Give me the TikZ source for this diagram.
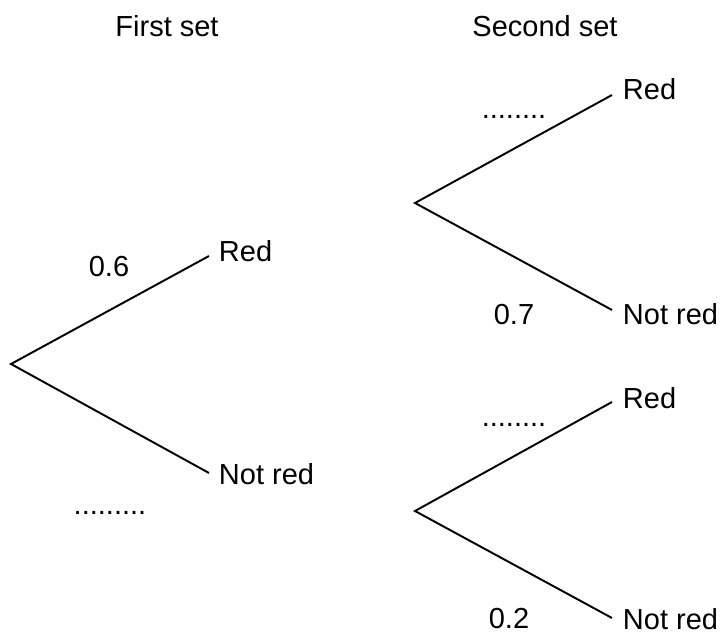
\documentclass[tikz,border=0pt]{standalone}
\usepackage{fontspec}
\setmainfont{Liberation Sans}
\begin{document}
\begin{tikzpicture}[line width=1.1pt, every node/.style={font=\fontsize{16.5}{20}\selectfont}, lbl/.style={right, inner sep=0pt}]
    \useasboundingbox (0,0) rectangle (14.4,12.7);
    \node (h1) at (3.34,12.18) {First set}; \node (h2) at (10.90,12.18) {Second set};
    
    \coordinate (v1) at (0.22,5.42); \coordinate (v2) at (4.18,7.58); \coordinate (v3) at (4.18,3.24);
    \draw (v2)--(v1)--(v3);
    \node[lbl] (r1) at (4.36,7.68) {Red}; \node[lbl] (n1) at (4.36,3.22) {Not red};
    \node (p1) at (2.18,7.36) {0.6}; \node[anchor=base] (d1) at (2.20,2.40) {.........};
    
    \begin{scope}[shift={(8.08,3.22)}]
        \coordinate (w1) at (0.22,5.42); \coordinate (w2) at (4.16,7.58); \coordinate (w3) at (4.16,3.28);
        \draw (w2)--(w1)--(w3);
        \node[lbl] (r2) at (4.36,7.70) {Red}; \node[lbl] (n2) at (4.36,3.20) {Not red};
        \node[anchor=base] (d2) at (2.20,7.10) {........}; \node (p2) at (2.20,3.18) {0.7};
    \end{scope}
    
    \begin{scope}[shift={(8.08,-2.94)}]
        \coordinate (u1) at (0.22,5.42); \coordinate (u2) at (4.16,7.60); \coordinate (u3) at (4.16,3.28);
        \draw (u2)--(u1)--(u3);
        \node[lbl] (r3) at (4.36,7.68) {Red}; \node[lbl] (n3) at (4.36,3.26) {Not red};
        \node[anchor=base] (d3) at (2.20,7.10) {........}; \node (p3) at (2.10,3.26) {0.2};
    \end{scope}
\end{tikzpicture}
\end{document}
